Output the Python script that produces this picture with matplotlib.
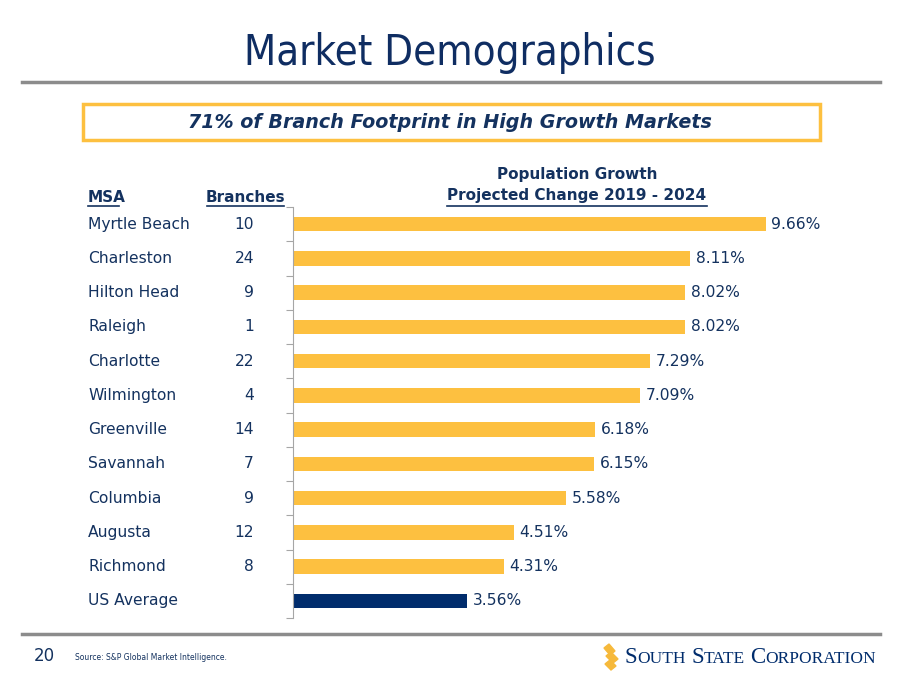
import matplotlib
matplotlib.use('Agg')
import matplotlib.pyplot as plt
import matplotlib.transforms as mtransforms
from matplotlib.patches import Rectangle, Polygon
from matplotlib.lines import Line2D

# data
msa = ['Myrtle Beach', 'Charleston', 'Hilton Head', 'Raleigh', 'Charlotte', 'Wilmington',
       'Greenville', 'Savannah', 'Columbia', 'Augusta', 'Richmond', 'US Average']
branches = ['10', '24', '9', '1', '22', '4', '14', '7', '9', '12', '8', '']
growth = [9.66, 8.11, 8.02, 8.02, 7.29, 7.09, 6.18, 6.15, 5.58, 4.51, 4.31, 3.56]

NAVY = '#14325f'
BAR_NAVY = '#002c6c'
YELLOW = '#fdc040'
GRAY = '#8c8c8c'
FONT = 'DejaVu Sans'

plt.rcParams['font.family'] = [FONT]

W, H = 900, 695
fig = plt.figure(figsize=(9, 6.95), dpi=100)

def fx(px):
    return px / W

def fy(py):
    return 1 - py / H

# title + rules
fig.text(0.5, fy(53), 'Market Demographics', ha='center', va='center',
         fontsize=30, color='#0f2d62', fontstretch='condensed')
fig.add_artist(Line2D([fx(22), fx(880)], [fy(82), fy(82)], color=GRAY, lw=2.5))
fig.add_artist(Line2D([fx(22), fx(880)], [fy(634), fy(634)], color=GRAY, lw=2.5))

# highlight box
fig.add_artist(Rectangle((fx(83), fy(140)), fx(820 - 83), (140 - 104) / H,
                         fill=False, edgecolor=YELLOW, lw=2.5))
fig.text(0.5, fy(122), '71% of Branch Footprint in High Growth Markets', ha='center',
         va='center', fontsize=13.8, color=NAVY, fontweight='bold', style='italic')

# bar chart
ax = fig.add_axes([fx(293), fy(618), fx(880 - 293), (618 - 207) / H])
y = list(range(len(msa)))
colors = [YELLOW] * (len(msa) - 1) + [BAR_NAVY]
ax.barh(y, growth, height=0.42, color=colors)
ax.set_ylim(len(msa) - 0.5, -0.5)
ax.set_xlim(0, 12.0)
for s in ['top', 'right', 'bottom']:
    ax.spines[s].set_visible(False)
ax.spines['left'].set_color('#a6a6a6')
ax.set_xticks([])
ax.set_yticks([i - 0.5 for i in range(len(msa) + 1)])
ax.set_yticklabels([])
ax.tick_params(axis='y', length=5, color='#a6a6a6')

blend = mtransforms.blended_transform_factory(fig.transFigure, ax.transData)
for i, v in enumerate(growth):
    ax.text(v + 0.12, i, f'{v:.2f}%', va='center', ha='left', fontsize=11.2, color=NAVY)
    ax.text(fx(88), i, msa[i], va='center', ha='left', fontsize=11.2, color=NAVY,
            transform=blend)
    ax.text(fx(254), i, branches[i], va='center', ha='right', fontsize=11.2, color=NAVY,
            transform=blend)

# headers
hdr = dict(fontsize=11, color=NAVY, fontweight='bold', va='center')
fig.text(fx(88), fy(198), 'MSA', ha='left', **hdr)
fig.text(fx(245), fy(198), 'Branches', ha='center', **hdr)
fig.text(fx(577), fy(175), 'Population Growth', ha='center', **hdr)
fig.text(fx(577), fy(196), 'Projected Change 2019 - 2024', ha='center', **hdr)
# underlines
for x0, x1 in [(88, 119), (207, 284), (447, 707)]:
    fig.add_artist(Line2D([fx(x0), fx(x1)], [fy(206), fy(206)], color=NAVY, lw=1.2))

# footer
fig.text(fx(34), fy(656), '20', ha='left', va='center', fontsize=12, color=NAVY)
fig.text(fx(75), fy(657), 'Source: S&P Global Market Intelligence.', ha='left', va='center',
         fontsize=5.5, color=NAVY)

# logo mark: stacked yellow strokes
marks = [
    [(604, 648), (609, 644), (615, 651), (610, 655)],
    [(606, 656), (611, 652), (618, 659), (613, 663)],
    [(605, 664), (610, 660), (616, 666), (611, 670)],
]
for pts in marks:
    fig.add_artist(Polygon([(fx(px), fy(py)) for px, py in pts], closed=True, color='#f6b93b'))

# logo text in small caps
renderer = fig.canvas.get_renderer()
xpos = fx(625)
for word in ['South', 'State', 'Corporation']:
    for j, part in enumerate([word[0], word[1:].upper()]):
        t = fig.text(xpos, fy(663), part, ha='left', va='baseline', color=BAR_NAVY,
                     family='Liberation Serif', fontsize=16.5 if j == 0 else 12.5)
        bb = t.get_window_extent(renderer)
        xpos += bb.width / W
    xpos += 5 / W

fig.savefig('out.png', dpi=100)
